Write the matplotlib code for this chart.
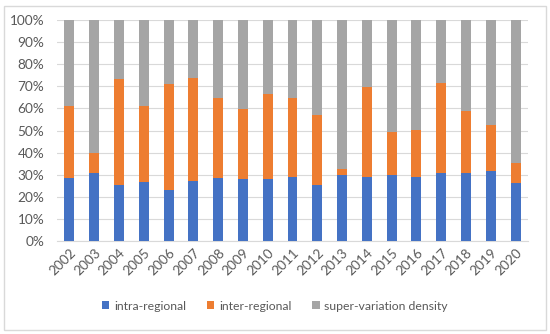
import matplotlib
matplotlib.use("Agg")
import matplotlib.pyplot as plt
from matplotlib.patches import Rectangle
import numpy as np

years = [str(y) for y in range(2002, 2021)]
intra = [28.3, 30.7, 25.3, 26.5, 23.3, 27.1, 28.6, 28.2, 27.9, 29.1, 25.3, 29.7, 28.9, 29.8, 28.9, 30.9, 30.7, 31.6, 26.2]
inter_top = [61.0, 39.6, 73.3, 61.0, 70.9, 73.6, 64.5, 59.6, 66.7, 64.8, 57.2, 32.5, 69.9, 49.5, 50.2, 71.7, 58.7, 52.3, 35.5]
inter = [t - b for t, b in zip(inter_top, intra)]
superv = [100 - t for t in inter_top]
labels = ["intra-regional", "inter-regional", "super-variation density"]
colors = ["#4472C4", "#ED7D31", "#A5A5A5"]

plt.rcParams['font.family'] = ['Lato', 'DejaVu Sans']
fig = plt.figure(figsize=(5.5, 3.34), dpi=100)
ax = fig.add_axes([57/550, 1 - 241/334, (528 - 57)/550, (241 - 20)/334])

x = np.arange(len(years))
w = 0.4
ax.bar(x, intra, w, color=colors[0], label=labels[0], zorder=3)
ax.bar(x, inter, w, bottom=intra, color=colors[1], label=labels[1], zorder=3)
ax.bar(x, superv, w, bottom=inter_top, color=colors[2], label=labels[2], zorder=3)

ax.set_xlim(-0.5, len(years) - 0.5)
ax.set_ylim(0, 100)
ax.set_yticks(range(0, 101, 10))
ax.set_yticklabels([f"{v}%" for v in range(0, 101, 10)])
ax.set_xticks(x)
ax.set_xticklabels(years, rotation=45, ha='right', rotation_mode='anchor')
ax.grid(axis='y', color='#D9D9D9', linewidth=0.8, zorder=0)
for s in ['top', 'right', 'left']:
    ax.spines[s].set_visible(False)
ax.spines['bottom'].set_color('#D9D9D9')
ax.tick_params(axis='both', length=0, colors='#595959', labelsize=9.8)
ax.tick_params(axis='y', pad=9)
ax.tick_params(axis='x', pad=4)

leg = fig.legend(loc='center', bbox_to_anchor=(0.5, 1 - 306/334), ncol=3, frameon=False,
                 fontsize=8.8, handlelength=0.6, handleheight=0.6, columnspacing=1.7, handletextpad=0.4)
for t in leg.get_texts():
    t.set_color('#595959')

fig.patches.append(Rectangle((4/550, 4/334), 542/550, 324/334, transform=fig.transFigure,
                             fill=False, edgecolor='#D9D9D9', linewidth=1))
fig.savefig("out.png", dpi=100)
